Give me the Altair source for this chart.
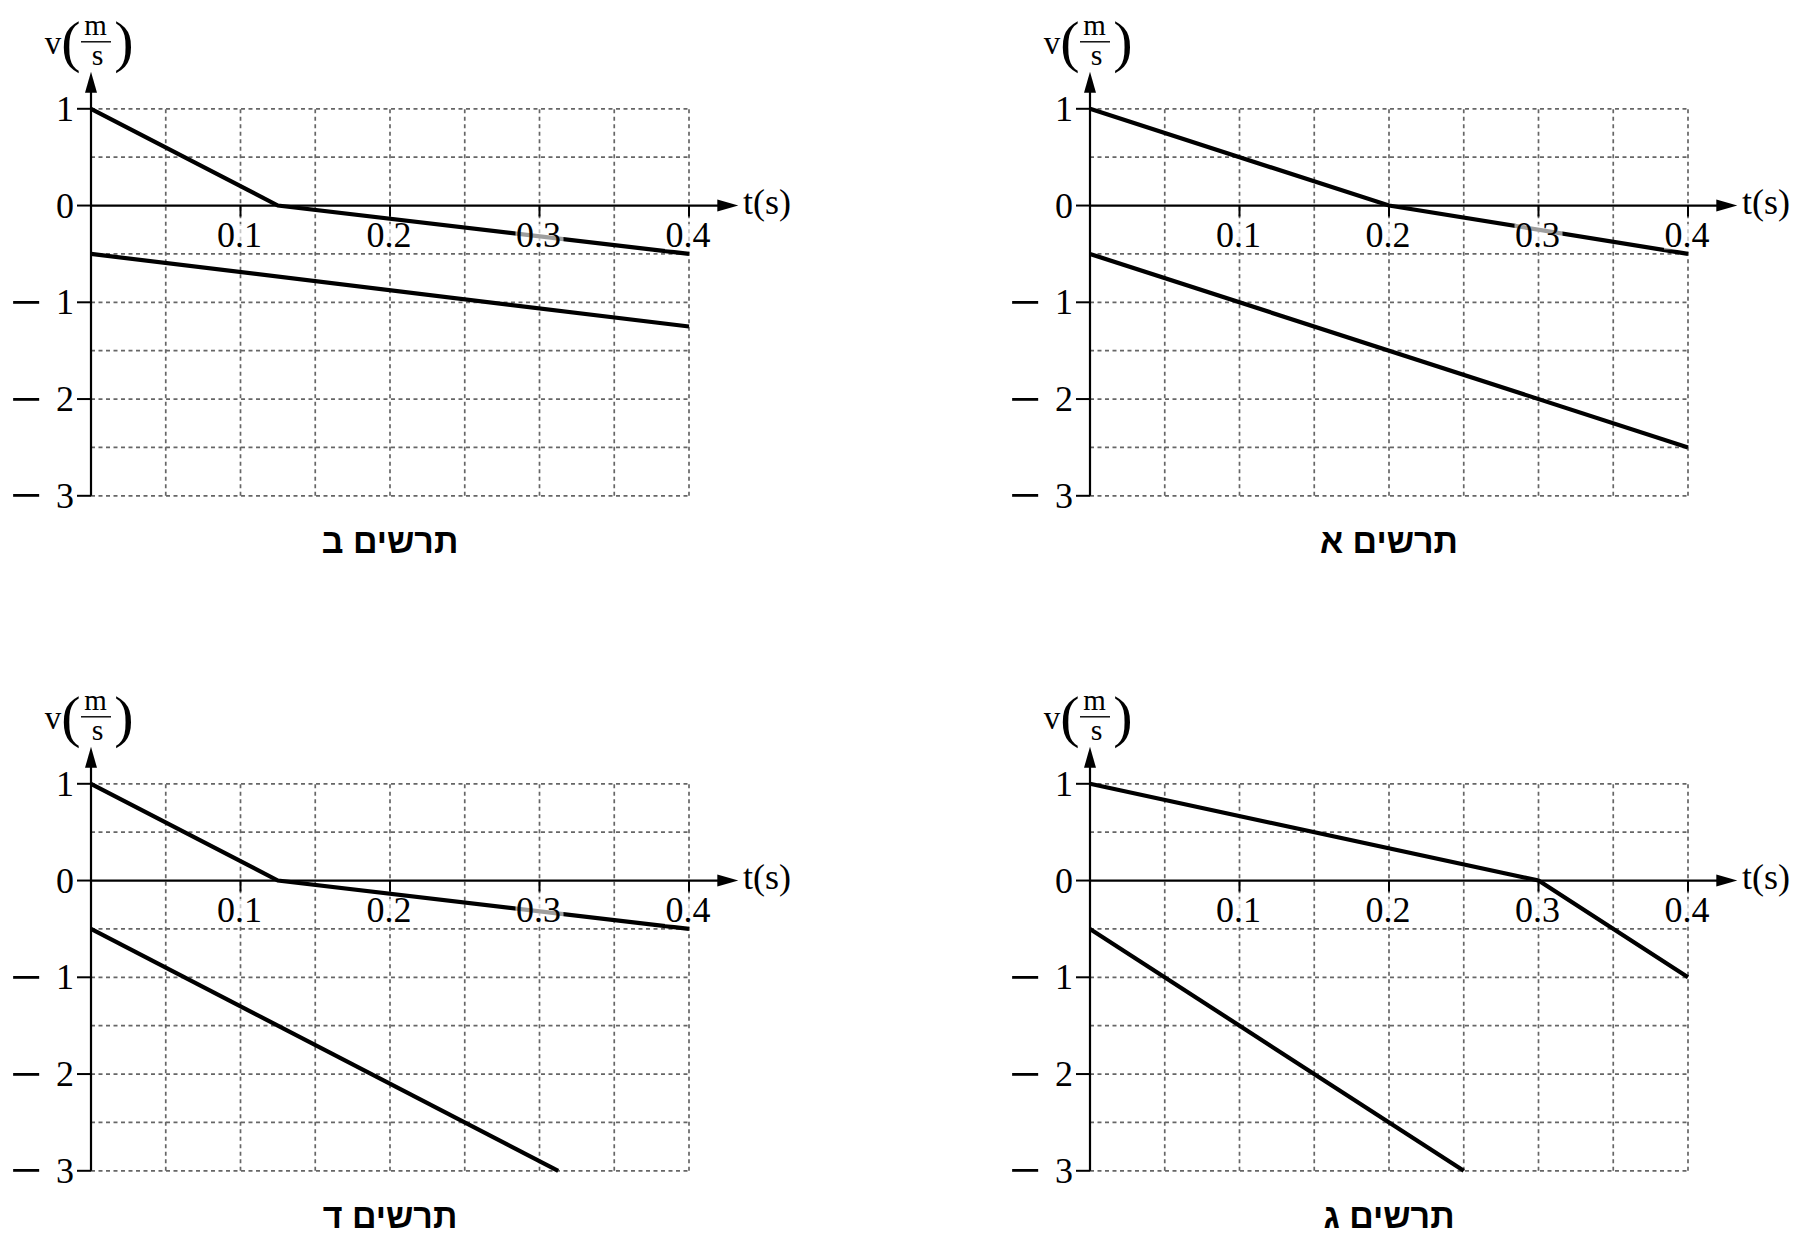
import altair as alt
import pandas as pd

# order of the four panels in the grid: top row ב | א, bottom row ד | ג
PANEL_KEYS = ["ב", "א", "ד", "ג"]
TITLES = {"א": "תרשים א", "ב": "תרשים ב", "ג": "תרשים ג", "ד": "תרשים ד"}

# upper line (starts at 1 m/s) and lower line (starts at -0.5 m/s) for each panel
UPPER_T = {"א": [0, 0.2, 0.4], "ב": [0, 0.125, 0.4], "ג": [0, 0.3, 0.4], "ד": [0, 0.125, 0.4]}
UPPER_V = {"א": [1, 0, -0.5], "ב": [1, 0, -0.5], "ג": [1, 0, -1], "ד": [1, 0, -0.5]}
LOWER_T = {"א": [0, 0.4], "ב": [0, 0.4], "ג": [0, 0.25], "ד": [0, 0.3125]}
LOWER_V = {"א": [-0.5, -2.5], "ב": [-0.5, -1.25], "ג": [-0.5, -3], "ד": [-0.5, -3]}

GRID_T = [0.05, 0.1, 0.15, 0.2, 0.25, 0.3, 0.35, 0.4]
GRID_V = [1, 0.5, -0.5, -1, -1.5, -2, -2.5, -3]
X_TICKS = [0.1, 0.2, 0.3, 0.4]
X_LABELS = ["0.1", "0.2", "0.3", "0.4"]
Y_TICKS = [1, 0, -1, -2, -3]
Y_DIGITS = ["1", "0", "1", "2", "3"]

SERIF = "Liberation Serif"
XS = alt.Scale(domain=[0, 0.4], nice=False, zero=False)
YS = alt.Scale(domain=[-3, 1], nice=False, zero=False)
ARROW_UP = "M0,-1L0.57,1L-0.57,1Z"
ARROW_RIGHT = "M1,0L-1,0.57L-1,-0.57Z"


def xd(value):
    return alt.XDatum(value, scale=XS, axis=None)


def yd(value):
    return alt.YDatum(value, scale=YS, axis=None)


def panel(key):
    lines = pd.DataFrame({
        "t": UPPER_T[key] + LOWER_T[key],
        "v": UPPER_V[key] + LOWER_V[key],
        "series": ["upper"] * len(UPPER_T[key]) + ["lower"] * len(LOWER_T[key]),
    })
    one = pd.DataFrame({"k": [0]})
    grid_t = pd.DataFrame({"t": GRID_T})
    grid_v = pd.DataFrame({"v": GRID_V})
    xticks = pd.DataFrame({"t": X_TICKS, "label": X_LABELS})
    yticks = pd.DataFrame({"v": Y_TICKS, "digit": Y_DIGITS})
    yneg = yticks[yticks["v"] < 0]

    dash = dict(color="#666666", strokeWidth=1.7, strokeDash=[4, 3.5])
    vgrid = alt.Chart(grid_t).mark_rule(**dash).encode(
        x=alt.X("t:Q", scale=XS, axis=None), y=yd(-3), y2=alt.datum(1)
    )
    hgrid = alt.Chart(grid_v).mark_rule(**dash).encode(
        y=alt.Y("v:Q", scale=YS, axis=None), x=xd(0), x2=alt.datum(0.4)
    )

    yaxis = alt.Chart(one).mark_rule(color="black", strokeWidth=2.2, y2Offset=-20).encode(
        x=xd(0), y=yd(-3), y2=alt.datum(1)
    )
    xaxis = alt.Chart(one).mark_rule(color="black", strokeWidth=2.2, x2Offset=32).encode(
        y=yd(0), x=xd(0), x2=alt.datum(0.4)
    )
    up = alt.Chart(one).mark_point(
        shape=ARROW_UP, size=441, filled=True, color="black", opacity=1, yOffset=-26.5
    ).encode(x=xd(0), y=yd(1))
    right = alt.Chart(one).mark_point(
        shape=ARROW_RIGHT, size=441, filled=True, color="black", opacity=1, xOffset=38.8
    ).encode(x=xd(0.4), y=yd(0))

    ytick = alt.Chart(yticks).mark_rule(color="black", strokeWidth=2, xOffset=-14).encode(
        y=alt.Y("v:Q", scale=YS, axis=None), x=xd(0), x2=alt.datum(0)
    )
    xtick = alt.Chart(xticks).mark_rule(color="black", strokeWidth=2, y2Offset=11).encode(
        x=alt.X("t:Q", scale=XS, axis=None), y=yd(0), y2=alt.datum(0)
    )

    vel = alt.Chart(lines).mark_line(color="black", strokeWidth=4.2).encode(
        x=alt.X("t:Q", scale=XS, axis=None),
        y=alt.Y("v:Q", scale=YS, axis=None),
        detail="series:N",
    )

    # translucent backing of the tick labels, which greys the line crossing "0.3"
    backing = alt.Chart(xticks).mark_rect(
        color="white", opacity=0.62, xOffset=-24, x2Offset=24, yOffset=18.5, y2Offset=44
    ).encode(x=alt.X("t:Q", scale=XS, axis=None), x2="t:Q", y=yd(0), y2=alt.datum(0))
    xlab = alt.Chart(xticks).mark_text(
        font=SERIF, fontSize=36, align="center", baseline="alphabetic", dx=-1, dy=41.8, color="black"
    ).encode(x=alt.X("t:Q", scale=XS, axis=None), y=yd(0), text="label:N")

    ylab = alt.Chart(yticks).mark_text(
        font=SERIF, fontSize=36, align="right", baseline="alphabetic", dx=-17, dy=12.2, color="black"
    ).encode(y=alt.Y("v:Q", scale=YS, axis=None), x=xd(0), text="digit:N")
    yminus = alt.Chart(yneg).mark_text(
        font=SERIF, fontSize=56, align="center", baseline="middle", dx=-65, dy=1.6, color="black"
    ).encode(y=alt.Y("v:Q", scale=YS, axis=None), x=xd(0), text=alt.value("−"))

    def label(text, size, dx, dy):
        return alt.Chart(one).mark_text(
            font=SERIF, fontSize=size, align="center", baseline="alphabetic", dx=dx, dy=dy, color="black"
        ).encode(x=xd(0), y=yd(1), text=alt.value(text))

    vunit = [
        label("v", 33, -38, -55),
        label("(", 58, -20, -48),
        label("m", 29, 4.5, -74),
        label("s", 30, 6.5, -44),
        label(")", 58, 33, -48),
        alt.Chart(one).mark_rule(
            color="black", strokeWidth=1.4, xOffset=-10, x2Offset=20, yOffset=-67
        ).encode(x=xd(0), x2=alt.datum(0), y=yd(1)),
    ]
    tunit = alt.Chart(one).mark_text(
        font=SERIF, fontSize=36, align="left", baseline="alphabetic", dx=54, dy=8, color="black"
    ).encode(x=xd(0.4), y=yd(0), text=alt.value("t(s)"))

    title = alt.Chart(one).mark_text(
        font="Liberation Sans", fontSize=34, fontWeight="bold", align="center",
        baseline="alphabetic", dy=57, color="black"
    ).encode(x=xd(0.2), y=yd(-3), text=alt.value(TITLES[key]))

    return alt.layer(
        vgrid, hgrid, yaxis, xaxis, up, right, ytick, xtick, vel,
        backing, xlab, ylab, yminus, *vunit, tunit, title
    ).properties(width=598, height=387)


chart = alt.concat(
    *[panel(k) for k in PANEL_KEYS], columns=2, spacing={"row": 288, "column": 401}
).properties(
    bounds="flush", padding={"left": 2, "top": 3.8, "right": 4, "bottom": 4}
).configure_view(stroke=None)

chart.save("out.html", embed_options={"renderer": "svg", "actions": False})
